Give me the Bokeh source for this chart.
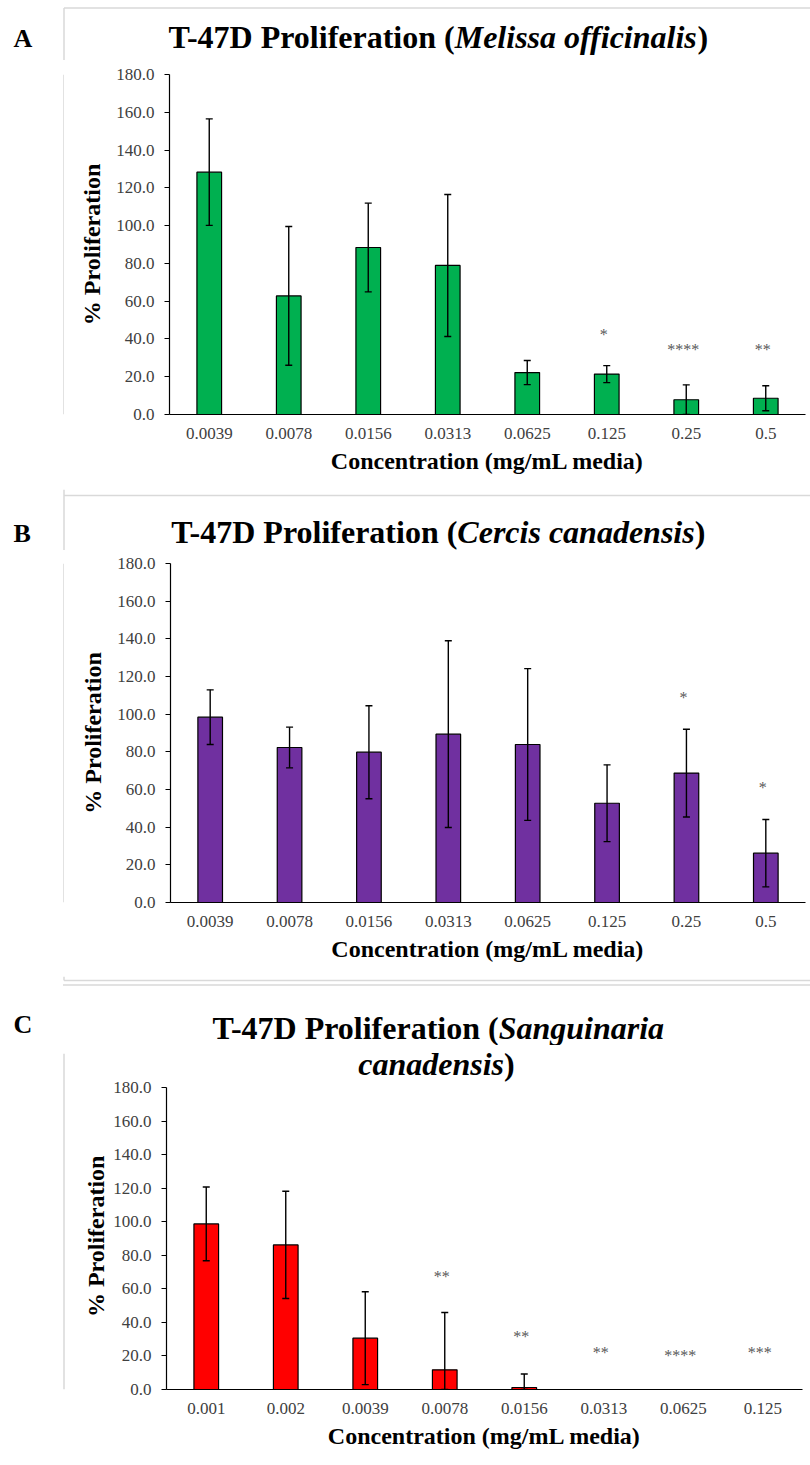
import math
from bokeh.plotting import figure
from bokeh.models import (FactorRange, Range1d, ColumnDataSource, Whisker, TeeHead,
                          Label, FixedTicker, NumeralTickFormatter)
from bokeh.core.properties import value
from bokeh.layouts import column, row
from bokeh.embed import file_html
from bokeh.resources import INLINE

# ---------------- data ----------------
conc_ab = ["0.0039", "0.0078", "0.0156", "0.0313", "0.0625", "0.125", "0.25", "0.5"]
conc_c = ["0.001", "0.002", "0.0039", "0.0078", "0.0156", "0.0313", "0.0625", "0.125"]

melissa_mean = [128.3, 62.8, 88.4, 78.9, 22.2, 21.4, 7.8, 8.6]
melissa_err = [28.2, 36.7, 23.5, 37.6, 6.4, 4.5, 7.9, 6.6]
melissa_sig = ["", "", "", "", "", "*", "****", "**"]
melissa_sig_y = [0, 0, 0, 0, 0, 43.0, 34.8, 34.8]

cercis_mean = [98.4, 82.3, 79.8, 89.4, 83.9, 52.7, 68.7, 26.2]
cercis_err = [14.5, 10.8, 24.7, 49.6, 40.3, 20.4, 23.3, 17.9]
cercis_sig = ["", "", "", "", "", "", "*", "*"]
cercis_sig_y = [0, 0, 0, 0, 0, 0, 109.6, 61.7]

sang_mean = [98.7, 86.2, 30.6, 11.7, 1.2, 0.0, 0.0, 0.0]
sang_err = [22.0, 32.0, 27.7, 34.2, 8.0, 0.0, 0.0, 0.0]
sang_sig = ["", "", "", "**", "**", "**", "****", "***"]
sang_sig_y = [0, 0, 0, 67.7, 31.9, 22.4, 20.6, 22.4]

y_ticks = [0, 20, 40, 60, 80, 100, 120, 140, 160, 180]
x_title = "Concentration (mg/mL media)"
y_title = "% Proliferation"

# ---------------- styling helpers ----------------
SERIF = "Liberation Serif"
BORDER = "#d9d9d9"
PAGE_W = 810
BASE_FIX = 0.34          # text anchor correction (fraction of font size)
BOLD_IT = {' ': 250, 'C': 667, 'M': 889, 'S': 556, 'a': 500, 'c': 444, 'd': 500, 'e': 444,
           'f': 333, 'g': 500, 'i': 278, 'l': 278, 'n': 556, 'o': 500, 'r': 389, 's': 389,
           'u': 556}
BOLD = {' ': 250, '(': 333, ')': 333, '-': 333, '4': 500, '7': 500, 'D': 722, 'P': 611,
        'T': 667, 'a': 500, 'e': 444, 'f': 333, 'i': 278, 'l': 278, 'n': 556, 'o': 500,
        'r': 444, 't': 333}
TITLE_CX = 436
TITLE_PX = 32


def text_w(s, style, size):
    table = BOLD if style == "bold" else BOLD_IT
    return sum(table.get(ch, 500) for ch in s) / 1000.0 * size


def line_parts(parts):
    """(x, align, text, style) for a centred mixed-style title line"""
    total = sum(text_w(t, s, TITLE_PX) for t, s in parts)
    X = TITLE_CX - total / 2.0
    out = []
    for i, (t, s) in enumerate(parts):
        w = text_w(t, s, TITLE_PX)
        if i == 0 and len(parts) > 1:
            out.append((X + w, "right", t, s))   # first piece ends exactly at the junction
        else:
            out.append((X, "left", t, s))
        X += w
    return out


def blank_fig(x0, x1, y_top, y_bot):
    """figure whose frame is the whole canvas, in page-pixel coordinates"""
    p = figure(width=int(x1 - x0), height=int(y_bot - y_top),
               x_range=Range1d(x0, x1), y_range=Range1d(y_bot, y_top),
               x_axis_type=None, y_axis_type=None,
               output_backend="svg", toolbar_location=None,
               min_border=0, min_border_left=0, min_border_right=0,
               min_border_top=0, min_border_bottom=0)
    p.title = None
    p.outline_line_color = None
    p.grid.visible = False
    p.background_fill_color = "white"
    p.border_fill_color = "white"
    return p


def title_fig(y_top, y_bot, letter, letter_base, lines, borders):
    p = blank_fig(0, PAGE_W, y_top, y_bot)
    for (x0, y0, x1, y1) in borders:
        p.segment(x0=[x0], y0=[y0], x1=[x1], y1=[y1], line_color=BORDER, line_width=1.5)
    p.text(x=[13], y=[letter_base - BASE_FIX * 26], text=[letter], text_font=value(SERIF),
           text_font_size="26px", text_font_style=value("bold"), text_color="black",
           text_align="left", text_baseline="alphabetic")
    for parts, base in lines:
        for X, al, t, s in line_parts(parts):
            p.text(x=[X], y=[base - BASE_FIX * TITLE_PX], text=[t], text_font=value(SERIF),
                   text_font_size="32px", text_font_style=value(s), text_color="black",
                   text_align=al, text_baseline="alphabetic")
    return p


def side_fig(width, y_top, y_bot, border_from, ylabel_at=None):
    p = blank_fig(0, width, y_top, y_bot)
    p.segment(x0=[63.5], y0=[border_from], x1=[63.5], y1=[y_bot], line_color=BORDER, line_width=1.5)
    if ylabel_at is not None:
        p.text(x=[ylabel_at[0]], y=[ylabel_at[1]], text=[y_title], angle=math.pi / 2,
               text_font=value(SERIF), text_font_size="24px", text_font_style=value("bold"),
               text_color="black", text_align="center", text_baseline="middle")
    return p


def plot_fig(conc, mean, err, sig, sig_y, color, x0, y_top, y_bot, fl, fr, ft, fb, y180,
             frame_lines=(), axis_ylabel=True):
    ymax = 180.0 * (fb - ft) / (fb - y180)
    p = figure(width=PAGE_W - x0, height=y_bot - y_top,
               x_range=FactorRange(factors=conc, range_padding=0),
               y_range=Range1d(0, ymax),
               output_backend="svg", toolbar_location=None,
               min_border_left=fl - x0, min_border_right=PAGE_W - fr,
               min_border_top=ft - y_top, min_border_bottom=y_bot - fb)
    p.title = None
    p.outline_line_color = None
    p.xgrid.visible = False
    p.ygrid.visible = False
    p.background_fill_color = "white"
    p.border_fill_color = "white"

    # bars
    src = ColumnDataSource(dict(x=conc, top=mean))
    p.vbar(x="x", top="top", width=0.31, source=src, fill_color=color,
           line_color="black", line_width=1.2)

    # error bars (for the bars that are drawn)
    ex, up, lo = [], [], []
    for c, m, e in zip(conc, mean, err):
        if m > 0:
            ex.append(c)
            up.append(m + e)
            lo.append(max(m - e, 0.0))
    esrc = ColumnDataSource(dict(x=ex, upper=up, lower=lo))
    p.add_layout(Whisker(source=esrc, base="x", upper="upper", lower="lower",
                         dimension="height", line_color="black", line_width=1.4,
                         level="annotation",
                         upper_head=TeeHead(size=7, line_color="black", line_width=1.4),
                         lower_head=TeeHead(size=7, line_color="black", line_width=1.4)))

    # significance asterisks
    sx, sy, st = [], [], []
    for c, s, y in zip(conc, sig, sig_y):
        if s:
            sx.append(c)
            sy.append(y)
            st.append(s)
    ssrc = ColumnDataSource(dict(x=sx, y=sy, t=st))
    p.text(x="x", y="y", text="t", source=ssrc, text_font=value(SERIF),
           text_font_size="16px", text_color="#595959", text_align="center",
           text_baseline="alphabetic", y_offset=1, x_offset=-3)

    # axes
    p.yaxis.ticker = FixedTicker(ticks=y_ticks)
    p.yaxis.formatter = NumeralTickFormatter(format="0.0")
    p.yaxis.bounds = (0, 180)
    for ax in (p.xaxis[0], p.yaxis[0]):
        ax.axis_line_color = "black"
        ax.axis_line_width = 1.2
        ax.major_label_text_font = SERIF
        ax.major_label_text_font_size = "17px"
        ax.major_label_text_color = "#404040"
        ax.axis_label_text_font = SERIF
        ax.axis_label_text_font_size = "24px"
        ax.axis_label_text_font_style = "bold"
        ax.axis_label_text_color = "black"
        ax.minor_tick_line_color = None
    p.yaxis.major_tick_in = 0
    p.yaxis.major_tick_out = 5
    p.yaxis.major_tick_line_color = "black"
    p.yaxis.major_label_standoff = 10
    p.yaxis.axis_label_standoff = 8
    p.xaxis.major_tick_in = 0
    p.xaxis.major_tick_out = 0
    p.xaxis.major_tick_line_color = None
    p.xaxis.major_label_standoff = 13
    p.xaxis.axis_label_standoff = 6
    p.xaxis.axis_label = x_title
    if axis_ylabel:
        p.yaxis.axis_label = y_title

    # title text that falls inside the frame (page-pixel -> data)
    for parts, base in frame_lines:
        for X, al, t, s in line_parts(parts):
            dx = (X - fl) / (fr - fl) * len(conc)
            dy = (fb - (base - BASE_FIX * TITLE_PX)) / (fb - y180) * 180.0
            p.add_layout(Label(x=dx, y=dy, text=t, text_font=SERIF, text_font_size="32px",
                               text_font_style=s, text_color="black",
                               text_align=al, text_baseline="alphabetic"))
    return p


# ---------------- panel A ----------------
tA = title_fig(0, 60, "A", 47,
               [([("T-47D Proliferation (", "bold"), ("Melissa officinalis", "bold italic"),
                  (")", "bold")], 47)],
               [(63.5, 7.5, 810, 7.5), (63.5, 7.5, 63.5, 60)])
sA = side_fig(64, 60, 489, 60)
pA = plot_fig(conc_ab, melissa_mean, melissa_err, melissa_sig, melissa_sig_y, "#00B050",
              64, 60, 489, 169, 805, 74, 414, 74)

# ---------------- panel B ----------------
tB = title_fig(489, 550, "B", 542,
               [([("T-47D Proliferation (", "bold"), ("Cercis canadensis", "bold italic"),
                  (")", "bold")], 542)],
               [(63.5, 489, 63.5, 550), (63.5, 495, 810, 495)])
sB = side_fig(64, 550, 976, 550)
pB = plot_fig(conc_ab, cercis_mean, cercis_err, cercis_sig, cercis_sig_y, "#7030A0",
              64, 550, 976, 170, 805, 563, 902, 563)

# ---------------- panel C ----------------
tC = title_fig(976, 1045, "C", 1033,
               [([("T-47D Proliferation (", "bold"), ("Sanguinaria", "bold italic")], 1038)],
               [(63.5, 976, 63.5, 980), (63.5, 980, 810, 980), (62.5, 984.5, 810, 984.5)])
sC = side_fig(110, 1045, 1465, 1055, ylabel_at=(95, 1278))
pC = plot_fig(conc_c, sang_mean, sang_err, sang_sig, sang_sig_y, "#FF0000",
              110, 1045, 1465, 166, 802, 1045, 1389, 1087,
              frame_lines=[([("canadensis", "bold italic"), (")", "bold")], 1074)],
              axis_ylabel=False)

layout = column(tA, row(sA, pA, spacing=0), tB, row(sB, pB, spacing=0),
                tC, row(sC, pC, spacing=0), spacing=0)
open("out.html", "w").write(file_html(layout, INLINE))
